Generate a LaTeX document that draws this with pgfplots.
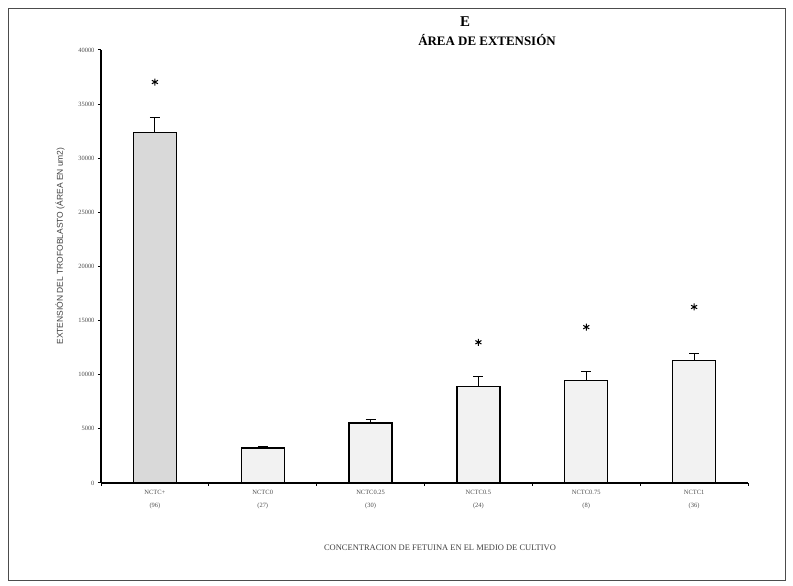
\documentclass[border=0pt]{standalone}
\usepackage{pgfplots}
\pgfplotsset{compat=1.18}
\usepackage{fontspec}
\setmainfont{Liberation Serif}
\setsansfont{Liberation Sans}
\begin{document}
\begin{tikzpicture}[x=1bp,y=1bp]
\path (-101,-103) rectangle (692,483);
\draw[black!70, line width=0.8bp] (-93,-97) rectangle (684,475);
\begin{axis}[
  at={(0bp,0bp)}, anchor=south west,
  scale only axis, width=647bp, height=433bp,
  xmin=-0.5, xmax=5.5, ymin=0, ymax=40000,
  axis x line=bottom, axis y line=left,
  axis line style={-, line width=1.1bp},
  ytick={0,5000,...,40000},
  scaled y ticks=false,
  yticklabel style={font=\fontsize{6.5}{7}\selectfont, text=black!70},
  /pgf/number format/assume math mode=true,
  /pgf/number format/1000 sep={},
  xtick={0,...,5},
  xticklabels={NCTC+\\[6bp](96),NCTC0\\[6bp](27),NCTC0.25\\[6bp](30),NCTC0.5\\[6bp](24),NCTC0.75\\[6bp](8),NCTC1\\[6bp](36)},
  xticklabel style={font=\fontsize{6.5}{7}\selectfont, text=black!70, align=center, yshift=-1bp},
  minor xtick={-0.5,0.5,...,5.5},
  major x tick style={draw=none},
  minor tick length=3bp, major tick length=3bp,
  tick align=outside,
  tick style={line width=1bp, black},
  bar width=43bp,
  clip=false,
]
\addplot[ybar, bar shift=0, fill=black!15, draw=black, line width=1.2bp,
  error bars/.cd, y dir=plus, y explicit, error bar style={line width=1bp}, error mark options={rotate=90, mark size=5bp, line width=1bp}]
  coordinates {(0,32400) +- (0,1400)};
\addplot[ybar, bar shift=0, fill=black!5, draw=black, line width=1.2bp,
  error bars/.cd, y dir=plus, y explicit, error bar style={line width=1bp}, error mark options={rotate=90, mark size=5bp, line width=1bp}]
  coordinates {(1,3230) +- (0,170) (2,5540) +- (0,300) (3,8950) +- (0,850) (4,9500) +- (0,800) (5,11350) +- (0,650)};
\addplot[only marks, mark=asterisk, mark size=3.5bp, mark options={line width=1bp, black}]
  coordinates {(0,37040) (3,13000) (4,14400) (5,16260)};
\end{axis}
\node[font=\bfseries\fontsize{15}{16}\selectfont] at (364,461) {E};
\node[font=\bfseries\fontsize{13}{14}\selectfont] at (386,443) {ÁREA DE EXTENSIÓN};
\node[font=\fontsize{8.5}{9}\selectfont, text=black!75] at (339,-65) {CONCENTRACION DE FETUINA EN EL MEDIO DE CULTIVO};
\node[font=\sffamily\fontsize{8.5}{9}\selectfont, text=black!75, rotate=90] at (-41,237) {EXTENSIÓN DEL TROFOBLASTO (ÁREA EN um2)};
\end{tikzpicture}
\end{document}
